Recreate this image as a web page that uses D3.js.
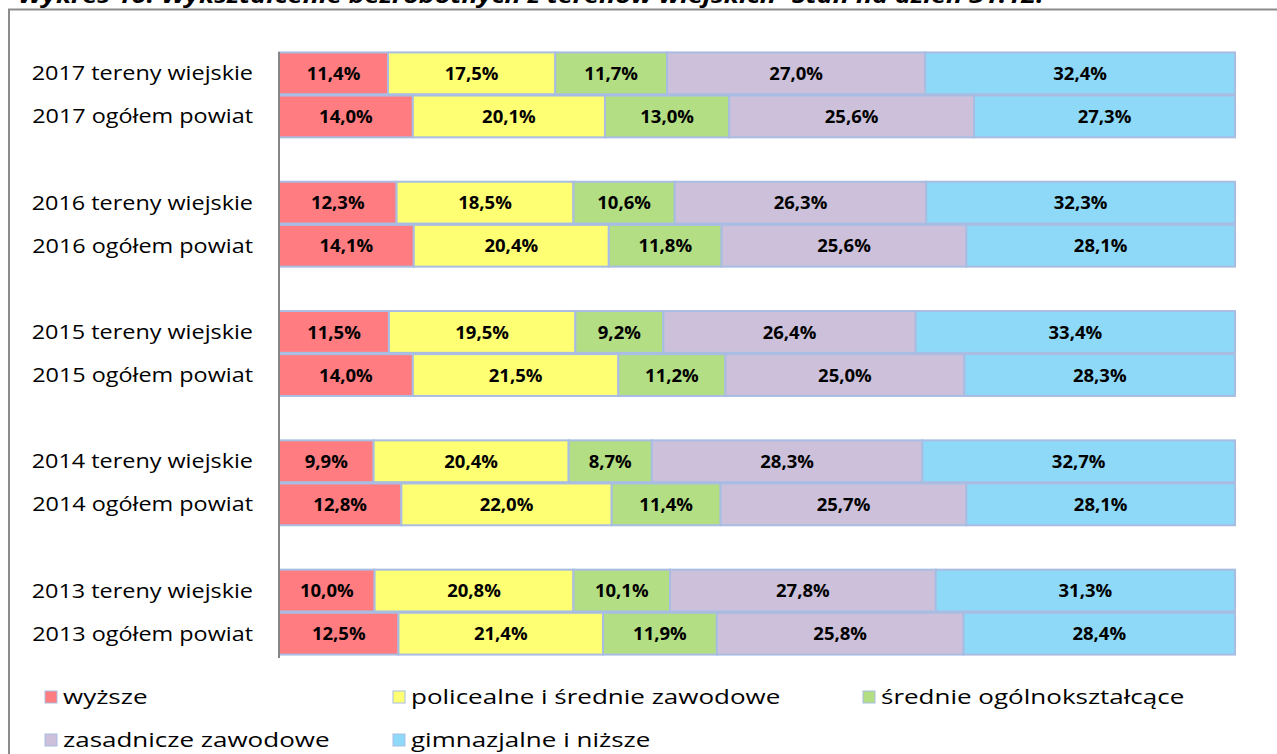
<!DOCTYPE html>
<html lang="pl">
<head>
<meta charset="UTF-8">
<title>Wykształcenie bezrobotnych</title>
<script src="https://d3js.org/d3.v7.min.js"></script>
<style>
  body { margin: 0; background: #fff; }
  svg { display: block; }
</style>
</head>
<body>
<div id="chart"></div>
<script>
// categories, top to bottom; "" = empty spacer row between years
var categories = ["2017 tereny wiejskie", "2017 ogółem powiat", "",
                  "2016 tereny wiejskie", "2016 ogółem powiat", "",
                  "2015 tereny wiejskie", "2015 ogółem powiat", "",
                  "2014 tereny wiejskie", "2014 ogółem powiat", "",
                  "2013 tereny wiejskie", "2013 ogółem powiat"];

var seriesNames = ["wyższe", "policealne i średnie zawodowe", "średnie ogólnokształcące",
                   "zasadnicze zawodowe", "gimnazjalne i niższe"];

// values per series, in category order (null for spacer rows)
var wyzsze      = [11.4, 14.0, null, 12.3, 14.1, null, 11.5, 14.0, null,  9.9, 12.8, null, 10.0, 12.5];
var policealne  = [17.5, 20.1, null, 18.5, 20.4, null, 19.5, 21.5, null, 20.4, 22.0, null, 20.8, 21.4];
var srednieOgol = [11.7, 13.0, null, 10.6, 11.8, null,  9.2, 11.2, null,  8.7, 11.4, null, 10.1, 11.9];
var zasadnicze  = [27.0, 25.6, null, 26.3, 25.6, null, 26.4, 25.0, null, 28.3, 25.7, null, 27.8, 25.8];
var gimnazjalne = [32.4, 27.3, null, 32.3, 28.1, null, 33.4, 28.3, null, 32.7, 28.1, null, 31.3, 28.4];

var seriesValues = [wyzsze, policealne, srednieOgol, zasadnicze, gimnazjalne];
var colors = ["#FF7C80", "#FFFF73", "#B3DE84", "#CCC0DA", "#8DD9F7"];

var W = 1277, H = 754;
var font = "'Open Sans', 'Noto Sans', sans-serif";
var svg = d3.select("#chart").append("svg")
    .attr("width", W).attr("height", H);

// title (cut off at top in the original)
svg.append("text")
    .attr("transform", "translate(18,3) scale(1.22,1)")
    .style("font-family", font)
    .style("font-size", "22px")
    .style("font-weight", "bold")
    .style("font-style", "italic")
    .text("Wykres 10. Wykształcenie bezrobotnych z terenów wiejskich -Stan na dzień 31.12.");

// chart frame
svg.append("rect")
    .attr("x", 9).attr("y", 9.5)
    .attr("width", W + 20).attr("height", H + 20)
    .attr("fill", "none")
    .attr("stroke", "#8c8c8c")
    .attr("stroke-width", 2);

var x = d3.scaleLinear().domain([0, 100]).range([279, 1235]);
var y = d3.scaleBand()
    .domain(d3.range(categories.length))
    .range([52, 655])
    .paddingInner(0.03).paddingOuter(0.01);

// build stacked table
var table = categories.map(function (c, i) {
  var row = { idx: i, label: c };
  seriesNames.forEach(function (s, k) { row[s] = seriesValues[k][i] || 0; });
  return row;
});
var stacked = d3.stack().keys(seriesNames)(table.filter(function (d) { return d.label !== ""; }));

var layers = svg.append("g").selectAll("g")
  .data(stacked)
  .enter().append("g")
    .attr("fill", function (d, k) { return colors[k]; });

layers.selectAll("rect")
  .data(function (d) { return d; })
  .enter().append("rect")
    .attr("x", function (d) { return x(d[0]); })
    .attr("y", function (d) { return y(d.data.idx); })
    .attr("width", function (d) { return x(d[1]) - x(d[0]); })
    .attr("height", y.bandwidth())
    .attr("stroke", "#A9BDE3")
    .attr("stroke-width", 2);

layers.selectAll("text")
  .data(function (d) { return d; })
  .enter().append("text")
    .attr("x", function (d) { return (x(d[0]) + x(d[1])) / 2; })
    .attr("y", function (d) { return y(d.data.idx) + y.bandwidth() / 2; })
    .attr("dy", "0.36em")
    .attr("text-anchor", "middle")
    .attr("fill", "#000")
    .style("font-family", font)
    .style("font-size", "18.5px")
    .style("font-weight", "bold")
    .text(function (d) { return (d[1] - d[0]).toFixed(1).replace(".", ",") + "%"; });

// category axis line
svg.append("line")
    .attr("x1", x(0)).attr("x2", x(0))
    .attr("y1", 52).attr("y2", 658)
    .attr("stroke", "#868686").attr("stroke-width", 2);

// category labels (wide Calibri look: slightly stretched)
svg.append("g").selectAll("text")
  .data(table.filter(function (d) { return d.label !== ""; }))
  .enter().append("text")
    .attr("transform", function (d) {
      return "translate(253," + (y(d.idx) + y.bandwidth() / 2) + ") scale(1.2,1)";
    })
    .attr("dy", "0.36em")
    .attr("text-anchor", "end")
    .style("font-family", font)
    .style("font-size", "19.5px")
    .text(function (d) { return d.label; });

// legend
var legendPos = [[45, 697], [393, 697], [863, 697], [45, 740], [393, 740]];
var legend = svg.append("g").selectAll("g")
  .data(seriesNames)
  .enter().append("g")
    .attr("transform", function (d, k) { return "translate(" + legendPos[k][0] + "," + legendPos[k][1] + ")"; });
legend.append("rect")
    .attr("x", 0).attr("y", -6).attr("width", 12).attr("height", 12)
    .attr("fill", function (d, k) { return colors[k]; })
    .attr("stroke", "#A9BDE3").attr("stroke-width", 1);
legend.append("text")
    .attr("transform", "translate(18,0) scale(1.3,1)")
    .attr("dy", "0.36em")
    .style("font-family", font)
    .style("font-size", "20px")
    .text(function (d) { return d; });
</script>
</body>
</html>
